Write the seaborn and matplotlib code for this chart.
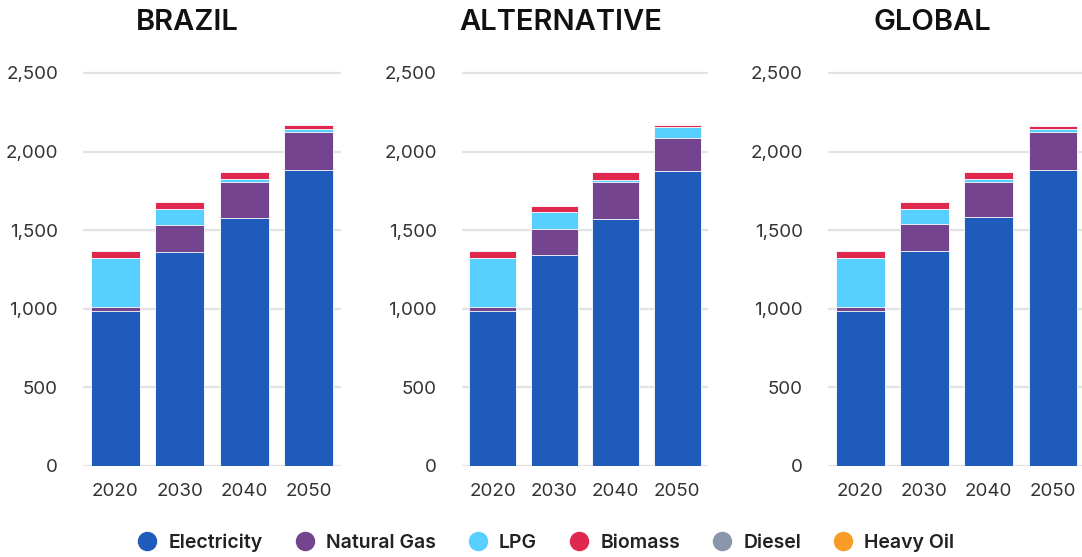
import pandas as pd
import matplotlib.pyplot as plt
import seaborn as sns
from matplotlib.lines import Line2D
from matplotlib.ticker import FuncFormatter

sns.set_style("white")
plt.rcParams["font.family"] = ["Inter", "DejaVu Sans"]

# Data
years = ["2020", "2030", "2040", "2050"]
fuels = ["Electricity", "Natural Gas", "LPG", "Biomass", "Diesel", "Heavy Oil"]
colors = ["#1F5BBA", "#74448F", "#57CFFF", "#E0284F", "#8A97AB", "#F99B27"]

brazil = {
    "Electricity": [988, 1363, 1580, 1883],
    "Natural Gas": [25, 170, 225, 244],
    "LPG": [312, 102, 21, 17],
    "Biomass": [42, 46, 44, 23],
    "Diesel": [0, 0, 0, 0],
    "Heavy Oil": [0, 0, 0, 0],
}
alternative = {
    "Electricity": [986, 1340, 1574, 1877],
    "Natural Gas": [25, 166, 231, 207],
    "LPG": [314, 108, 17, 70],
    "Biomass": [41, 40, 46, 13],
    "Diesel": [0, 0, 0, 0],
    "Heavy Oil": [0, 0, 0, 0],
}
global_ = {
    "Electricity": [986, 1370, 1586, 1883],
    "Natural Gas": [25, 167, 219, 244],
    "LPG": [314, 98, 21, 17],
    "Biomass": [41, 44, 44, 20],
    "Diesel": [0, 0, 0, 0],
    "Heavy Oil": [0, 0, 0, 0],
}
scenarios = [("BRAZIL", brazil), ("ALTERNATIVE", alternative), ("GLOBAL", global_)]

W, H = 1082, 557
fig = plt.figure(figsize=(W / 100, H / 100), dpi=100)

# axes placement in pixels: (left, right)
panel_px = [(83, 341), (462, 708), (828, 1082)]
title_x = [187, 561, 932]
y0_px, y_top_px = 466, 466 - 2600 * 0.1572

for (name, data), (l, r), tx in zip(scenarios, panel_px, title_x):
    ax = fig.add_axes([l / W, (H - y0_px) / H, (r - l) / W, (y0_px - y_top_px) / H])
    df = pd.DataFrame(data, index=years)
    cum = df[fuels].cumsum(axis=1)
    # draw cumulative stacks from top layer down so each layer shows on top of the previous
    for fuel, col in reversed(list(zip(fuels, colors))):
        sub = pd.DataFrame({"year": years, "value": cum[fuel].values})
        sns.barplot(data=sub, x="year", y="value", color=col, width=0.76,
                    edgecolor="white", linewidth=0.6, saturation=1, ax=ax, zorder=3)
    ax.set_ylim(0, 2600)
    ax.set_xlim(-0.5, 3.5 if r < W else 3.45)
    ax.set_yticks([0, 500, 1000, 1500, 2000, 2500])
    ax.yaxis.set_major_formatter(FuncFormatter(lambda v, p: f"{int(v):,}"))
    ax.grid(axis="y", color="#e3e3e3", linewidth=1.6, zorder=0)
    ax.set_axisbelow(True)
    for s in ax.spines.values():
        s.set_visible(False)
    ax.set_xlabel("")
    ax.set_ylabel("")
    ax.tick_params(axis="both", length=0, labelsize=13.5, colors="#333333")
    ax.tick_params(axis="y", pad=18)
    ax.tick_params(axis="x", pad=12)
    fig.text(tx / W, 1 - 22 / H, name, ha="center", va="center", fontsize=21,
             fontweight="semibold", color="#111111")

handles = [Line2D([0], [0], marker="o", linestyle="", markersize=13,
                  markerfacecolor=c, markeredgecolor=c) for c in colors]
fig.legend(handles, fuels, loc="center", bbox_to_anchor=(0.5, 1 - 543 / H), ncol=6,
           frameon=False, handletextpad=0.1, columnspacing=1.15,
           prop={"size": 14, "weight": "semibold"}, labelcolor="#222222")

fig.savefig("out.png", dpi=100)
